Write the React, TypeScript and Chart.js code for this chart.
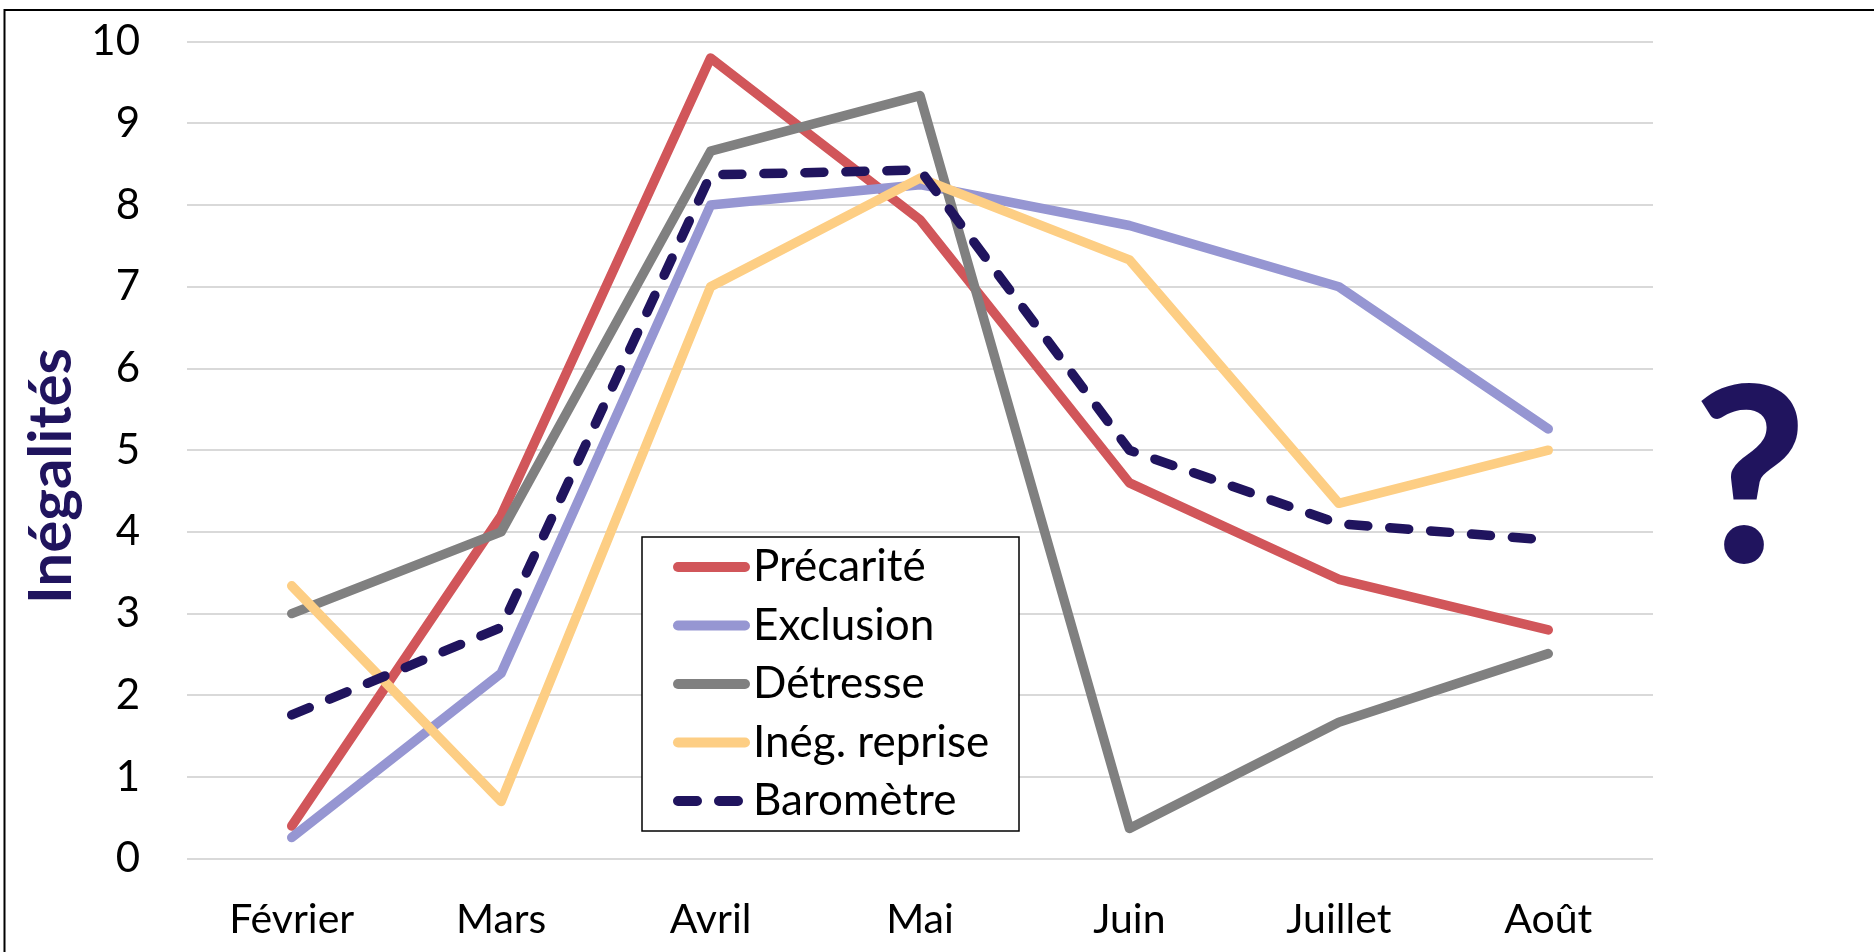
import React, { useEffect, useRef } from "react";
import { Chart, registerables } from "chart.js";

Chart.register(...registerables);

const months = ["Février", "Mars", "Avril", "Mai", "Juin", "Juillet", "Août"];
const precarite = [0.4, 4.2, 9.8, 7.82, 4.6, 3.42, 2.8];
const exclusion = [0.26, 2.27, 8.0, 8.25, 7.75, 7.0, 5.26];
const detresse = [3.0, 4.0, 8.66, 9.34, 0.37, 1.67, 2.51];
const inegReprise = [3.34, 0.7, 7.0, 8.33, 7.33, 4.35, 5.0];
const barometre = [1.76, 2.83, 8.37, 8.43, 5.0, 4.1, 3.9];
const seriesNames = ["Précarité", "Exclusion", "Détresse", "Inég. reprise", "Baromètre"];
const seriesColors = ["#D1565A", "#9696D2", "#808080", "#FDCE84", "#20145E"];
const yTitle = "Inégalités";
const sideMark = "?";

const FONT = "Lato, 'Noto Sans', sans-serif";
const W = 1874;
const H = 952;

const decorPlugin = {
  id: "decor",
  beforeDraw(chart: any) {
    const ctx = chart.ctx;
    ctx.save();
    ctx.fillStyle = "#ffffff";
    ctx.fillRect(0, 0, W, H);
    ctx.strokeStyle = "#000000";
    ctx.lineWidth = 2;
    ctx.beginPath();
    ctx.moveTo(4.5, H + 5);
    ctx.lineTo(4.5, 10);
    ctx.lineTo(W + 5, 10);
    ctx.stroke();
    ctx.restore();
  },
  afterDatasetsDraw(chart: any) {
    const ctx = chart.ctx;
    const area = chart.chartArea;
    ctx.save();
    // y-axis title
    ctx.translate(52, 476);
    ctx.rotate(-Math.PI / 2);
    ctx.fillStyle = "#20145E";
    ctx.font = `bold 60px ${FONT}`;
    ctx.textAlign = "center";
    ctx.textBaseline = "middle";
    ctx.fillText(yTitle, 0, 0);
    ctx.restore();

    // question mark
    ctx.save();
    ctx.fillStyle = "#20145E";
    ctx.font = `900 244px ${FONT}`;
    ctx.textAlign = "center";
    ctx.textBaseline = "alphabetic";
    ctx.fillText(sideMark, area.right + 97, 562);
    ctx.restore();

    // legend
    const bx = 642, by = 537, bw = 377, bh = 294;
    ctx.save();
    ctx.fillStyle = "#ffffff";
    ctx.fillRect(bx, by, bw, bh);
    ctx.strokeStyle = "#000000";
    ctx.lineWidth = 1.5;
    ctx.strokeRect(bx, by, bw, bh);
    chart.data.datasets.forEach((ds: any, i: number) => {
      const cy = by + 30 + i * 58.5;
      ctx.save();
      ctx.strokeStyle = ds.borderColor;
      ctx.lineWidth = 10;
      ctx.lineCap = "round";
      if (ds.borderDash && ds.borderDash.length) ctx.setLineDash(ds.borderDash);
      ctx.beginPath();
      ctx.moveTo(bx + 36, cy);
      ctx.lineTo(bx + 103, cy);
      ctx.stroke();
      ctx.restore();
      ctx.fillStyle = "#000000";
      ctx.font = `44px ${FONT}`;
      ctx.textAlign = "left";
      ctx.textBaseline = "middle";
      ctx.fillText(ds.label, bx + 111, cy);
    });
    ctx.restore();
  },
};

export default function App() {
  const ref = useRef<HTMLCanvasElement | null>(null);
  useEffect(() => {
    if (!ref.current) return;
    const values = [precarite, exclusion, detresse, inegReprise, barometre];
    const chart = new Chart(ref.current, {
      type: "line",
      data: {
        labels: months,
        datasets: values.map((v, i) => ({
          label: seriesNames[i],
          data: v,
          borderColor: seriesColors[i],
          backgroundColor: seriesColors[i],
          borderWidth: 9.5,
          borderCapStyle: "round" as const,
          borderJoinStyle: "round" as const,
          borderDash: i === 4 ? [19, 22] : [],
          pointRadius: 0,
          pointHoverRadius: 0,
          tension: 0,
          fill: false,
          order: 5 - i,
        })),
      },
      options: {
        responsive: false,
        animation: false,
        events: [],
        layout: { padding: { top: 41.7, right: 221, bottom: 0, left: 0 } },
        plugins: {
          legend: { display: false },
          tooltip: { enabled: false },
          title: { display: false },
        },
        scales: {
          x: {
            offset: true,
            grid: { display: false, drawTicks: false },
            border: { display: false },
            ticks: {
              color: "#000000",
              font: { family: FONT, size: 41 },
              padding: 36,
              maxRotation: 0,
              autoSkip: false,
            },
            afterFit(scale: any) {
              scale.height = 93.3;
              scale.paddingLeft = 0;
              scale.paddingRight = 0;
            },
          },
          y: {
            min: 0,
            max: 10,
            grid: { color: "#D9D9D9", lineWidth: 2, drawTicks: false },
            border: { display: false },
            ticks: {
              stepSize: 1,
              color: "#000000",
              font: { family: FONT, size: 42 },
              padding: 47,
            },
            afterFit(scale: any) {
              scale.width = 187;
              scale.paddingTop = 0;
              scale.paddingBottom = 0;
            },
          },
        },
      },
      plugins: [decorPlugin],
    });
    return () => chart.destroy();
  }, []);
  return (
    <div style={{ position: "fixed", left: 0, top: 0, width: W, height: H, background: "#fff" }}>
      <canvas ref={ref} width={W} height={H} style={{ display: "block", width: W, height: H }} />
    </div>
  );
}
